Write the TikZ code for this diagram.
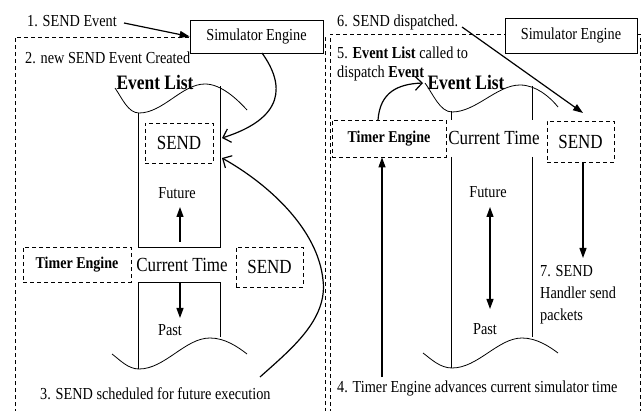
\documentclass[tikz,border=0pt]{standalone}
\usepackage{fontspec}
\setmainfont[FakeStretch=0.85]{Liberation Serif}
\usetikzlibrary{arrows.meta}
\tikzset{
  lbl/.style={inner sep=0pt, font=\fontsize{16.8}{20}\selectfont},
  big/.style={inner sep=0pt, font=\fontsize{20}{24}\selectfont},
  bigb/.style={inner sep=0pt, font=\fontsize{20.5}{24}\selectfont\bfseries},
  simbox/.style={draw, line width=0.8pt, fill=white, inner sep=0pt, font=\fontsize{16.8}{20}\selectfont},
  dbox/.style={draw, dashed, dash pattern=on 4pt off 3pt, line width=0.8pt, fill=white, inner sep=0pt},
  panel/.style={draw, dash pattern=on 4pt off 3pt, line width=0.8pt},
  wave/.style={line width=0.8pt},
  tl/.style={line width=0.8pt},
  farrow/.style={line width=1.2pt, -{Triangle[length=10pt,width=7pt]}},
  barrow/.style={line width=1.2pt, -{Straight Barb[length=7pt,width=14pt]}},
}
\begin{document}
\begin{tikzpicture}[x=1pt,y=-1pt]
\useasboundingbox (0,0) rectangle (642,411);
% panels
\draw[panel] (15,413) -- (15,37) -- (325,37) -- (325,413);
\draw[panel] (330,413) -- (330,34) -- (640,34) -- (640,413);

% ---------------- LEFT PANEL ----------------
\node[simbox, minimum width=133pt, minimum height=33pt] (simL) at (256.5,36.5) {Simulator Engine};
\node[lbl, anchor=west] (t1) at (27,21) {1. SEND Event};
\node[lbl, anchor=west] (t2) at (25,58) {2. new SEND Event Created};
\node[bigb] (elL) at (155,82) {Event List};

% top wave
\draw[wave] (115,88) .. controls (122,98) and (128,113) .. (139,113)
  .. controls (163,113) and (182,84) .. (205,84)
  .. controls (221,84) and (237,99) .. (247,110);
\draw[tl] (138,113) -- (138,247) -- (220,247) -- (220,86);

\node[dbox, minimum width=68pt, minimum height=40pt, font=\fontsize{20}{24}\selectfont] (sendL1) at (179,143) {SEND};
\node[lbl] (futL) at (177,193) {Future};
\node[big] (ctL) at (182,265) {Current Time};
\node[dbox, minimum width=108pt, minimum height=35pt, font=\fontsize{16.5}{20}\selectfont\bfseries] (timerL) at (77,264.5) {Timer Engine};
\node[dbox, minimum width=67pt, minimum height=40pt, font=\fontsize{20}{24}\selectfont] (sendL2) at (269.5,267) {SEND};

\draw[tl] (138,369) -- (138,282) -- (220,282) -- (220,337);
\node[lbl] (pastL) at (170,330) {Past};
% bottom wave
\draw[wave] (112,354) .. controls (120,360) and (128,369) .. (139,369)
  .. controls (165,369) and (185,338) .. (210,338)
  .. controls (225,338) and (238,347) .. (247,354);

\node[lbl, anchor=west] (t3) at (40,394) {3. SEND scheduled for future execution};

\coordinate (fL0) at (180,242);
\coordinate (fL1) at (180,207);
\coordinate (pL0) at (180,283);
\coordinate (pL1) at (180,318);
\draw[farrow] (fL0) -- (fL1);
\draw[farrow] (pL0) -- (pL1);

% arrows
\draw[line width=1.2pt, -{Triangle[length=10pt,width=7pt]}] (t1.east) ++(7,2) -- (simL.west);
\coordinate (cA0) at (262,53);
\coordinate (cA1) at (222,138);
\draw[barrow] (cA0) .. controls (285,85) and (285,118) .. (cA1);
\coordinate (cB0) at (260,377);
\coordinate (cB1) at (222,158);
\draw[barrow] (cB0) .. controls (290,350) and (328,320) .. (323,280)
  .. controls (318,230) and (270,185) .. (cB1);

% ---------------- RIGHT PANEL ----------------
\node[simbox, minimum width=132pt, minimum height=35pt] (simR) at (571,35.5) {Simulator Engine};
\node[lbl, anchor=west] (t6) at (337,22) {6. SEND dispatched.};
\node[lbl, anchor=west] (t5a) at (337,53) {5. \textbf{Event List} called to};
\node[lbl, anchor=west] (t5b) at (337,73) {dispatch \textbf{Event}};
\node[bigb] (elR) at (466,82) {Event List};

\draw[wave] (425,83) .. controls (433,94) and (440,112) .. (452,112)
  .. controls (476,112) and (497,85) .. (520,85)
  .. controls (536,85) and (550,97) .. (558,107);

\node[dbox, minimum width=114pt, minimum height=37pt, font=\fontsize{16.5}{20}\selectfont\bfseries] (timerR) at (389,138.5) {Timer Engine};
\node[big] (ctR) at (494,138) {Current Time};
\node[dbox, minimum width=67pt, minimum height=41pt, font=\fontsize{20}{24}\selectfont] (sendR) at (580.5,141.5) {SEND};

\draw[tl] (451,111) -- (451,120);
\draw[tl] (532,86) -- (532,120);
\draw[tl] (451,157) -- (451,368);
\draw[tl] (532,157) -- (532,337);

\node[lbl] (futR) at (488,192) {Future};
\node[lbl] (pastR) at (485,329) {Past};
\node[lbl, anchor=north west, align=left, font=\fontsize{16.8}{22}\selectfont] (t7) at (540,265) {7. SEND\\Handler send\\packets};

\draw[wave] (423,353) .. controls (431,359) and (440,368) .. (452,368)
  .. controls (478,368) and (498,338) .. (522,338)
  .. controls (537,338) and (550,347) .. (558,353);

\node[lbl, anchor=west] (t4) at (337,388) {4. Timer Engine advances current simulator time};

\coordinate (tu0) at (382,377);
\draw[farrow] (tu0) -- (timerR.south -| tu0);
\coordinate (tc0) at (378,120);
\coordinate (tc1) at (423,83);
\draw[barrow] (tc0) .. controls (380,92) and (398,84) .. (tc1);
\coordinate (d0) at (490,207);
\coordinate (d1) at (490,309);
\draw[line width=1.2pt, {Triangle[length=10pt,width=7pt]}-{Triangle[length=10pt,width=7pt]}] (d0) -- (d1);
\coordinate (sd) at (583,258);
\draw[farrow] (sendR.south -| sd) -- (sd);
\coordinate (ds0) at (462,27);
\coordinate (ds1) at (583,113);
\draw[farrow] (ds0) -- (ds1);
\end{tikzpicture}
\end{document}
